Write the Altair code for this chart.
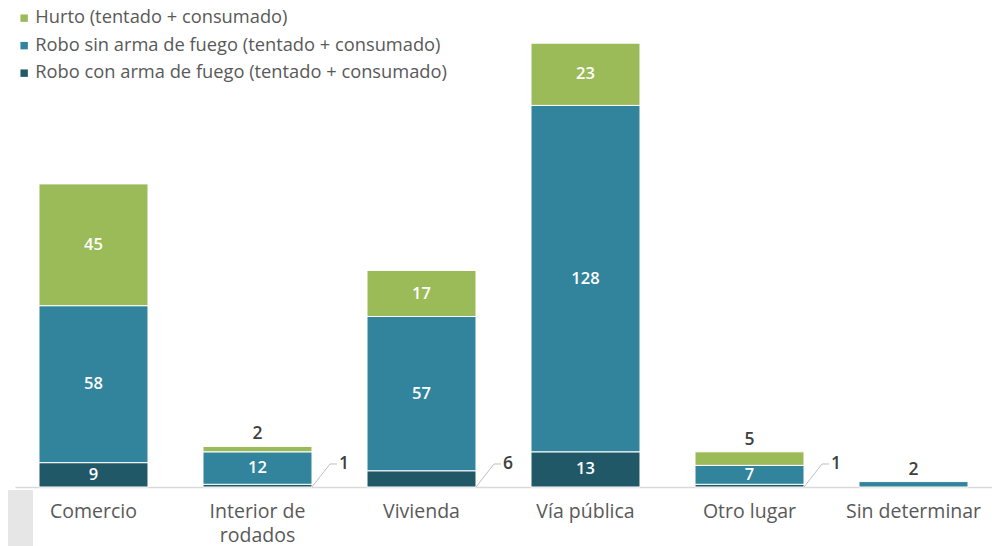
import altair as alt
import pandas as pd

categories = ["Comercio", "Interior de rodados", "Vivienda", "Vía pública", "Otro lugar", "Sin determinar"]
series = [
    "Hurto (tentado + consumado)",
    "Robo sin arma de fuego (tentado + consumado)",
    "Robo con arma de fuego (tentado + consumado)",
]
hurto = [45, 2, 17, 23, 5, 0]
robo_sin = [58, 12, 57, 128, 7, 2]
robo_con = [9, 1, 6, 13, 1, 0]
colors = ["#9bbb59", "#31849b", "#215868"]

FONT = "Open Sans"

rows = []
for i, c in enumerate(categories):
    total = hurto[i] + robo_sin[i] + robo_con[i]
    base = 0
    for s, vals, rank in [(series[2], robo_con, 0), (series[1], robo_sin, 1), (series[0], hurto, 2)]:
        v = vals[i]
        if v > 0:
            if v >= 7:
                mode = "inside"
            elif rank == 0:
                mode = "leader"
            else:
                mode = "above"
            rows.append(dict(cat=c, serie=s, value=v, y0=base, y1=base + v,
                             mid=base + v / 2, rank=rank, top=total, mode=mode))
        base += v
df = pd.DataFrame(rows)

xenc = alt.X("cat:N", sort=categories, title=None,
             scale=alt.Scale(paddingInner=0.3354, paddingOuter=0.1463),
             axis=alt.Axis(labelAngle=0, ticks=False, domainColor="#d9d9d9", domainWidth=1.5,
                           labelFontSize=19.5, labelColor="#595959", labelFont=FONT,
                           labelPadding=15, labelLineHeight=24.5, labelBaseline="top",
                           labelExpr="datum.label == 'Interior de rodados' ? ['Interior de', 'rodados'] : datum.label"))
yscale = alt.Scale(domain=[0, 177], nice=False)

base = alt.Chart(df)

bars = base.mark_bar(stroke="white", strokeWidth=1).encode(
    x=xenc,
    y=alt.Y("y0:Q", scale=yscale, axis=None),
    y2="y1:Q",
    color=alt.Color("serie:N", scale=alt.Scale(domain=series, range=colors),
                    legend=alt.Legend(title=None, orient="none", legendX=0, legendY=1,
                                      symbolType="square", symbolSize=55, symbolStrokeWidth=0,
                                      labelFontSize=18.3, labelColor="#595959", labelFont=FONT,
                                      labelOffset=2, rowPadding=8.5, padding=0, labelLimit=600)),
)

inside = base.transform_filter("datum.mode == 'inside'").mark_text(
    color="white", fontSize=16.5, font=FONT, fontWeight=600, baseline="middle"
).encode(x=alt.X("cat:N", sort=categories), y=alt.Y("mid:Q", scale=yscale), text="value:Q")

above = base.transform_filter("datum.mode == 'above'").mark_text(
    color="#404040", fontSize=17.5, font=FONT, fontWeight=600, baseline="middle", dy=-12
).encode(x=alt.X("cat:N", sort=categories), y=alt.Y("top:Q", scale=yscale), text="value:Q")

lead_base = base.transform_filter("datum.mode == 'leader'")
diag = lead_base.mark_rule(color="#bfbfbf", strokeWidth=1, x2Offset=18).encode(
    x=alt.X("cat:N", sort=categories, bandPosition=1),
    x2=alt.X2("cat", bandPosition=1),
    y=alt.Y("y0:Q", scale=yscale),
    y2=alt.Y2(datum=8.5),
)
horiz = lead_base.mark_rule(color="#bfbfbf", strokeWidth=1, xOffset=18, x2Offset=25).encode(
    x=alt.X("cat:N", sort=categories, bandPosition=1),
    x2=alt.X2("cat", bandPosition=1),
    y=alt.Y(datum=8.5, scale=yscale),
)
lead_txt = lead_base.mark_text(
    color="#404040", fontSize=17.5, font=FONT, fontWeight=600, baseline="middle", align="center", dx=32
).encode(
    x=alt.X("cat:N", sort=categories, bandPosition=1),
    y=alt.Y(datum=8.5, scale=yscale),
    text="value:Q",
)

corner = alt.Chart(pd.DataFrame({"a": [0]})).mark_rect(color="#e6e6e6").encode(
    x=alt.value(-7), x2=alt.value(18), y=alt.value(482), y2=alt.value(540)
)

chart = alt.layer(corner, bars, inside, above, diag, horiz, lead_txt).properties(
    width=977, height=479,
    padding={"left": 7, "top": 0, "right": 0, "bottom": 59},
    autosize=alt.AutoSizeParams(type="none"),
).configure_view(stroke=None)

chart.save("out.html", embed_options={"renderer": "svg", "actions": False})
